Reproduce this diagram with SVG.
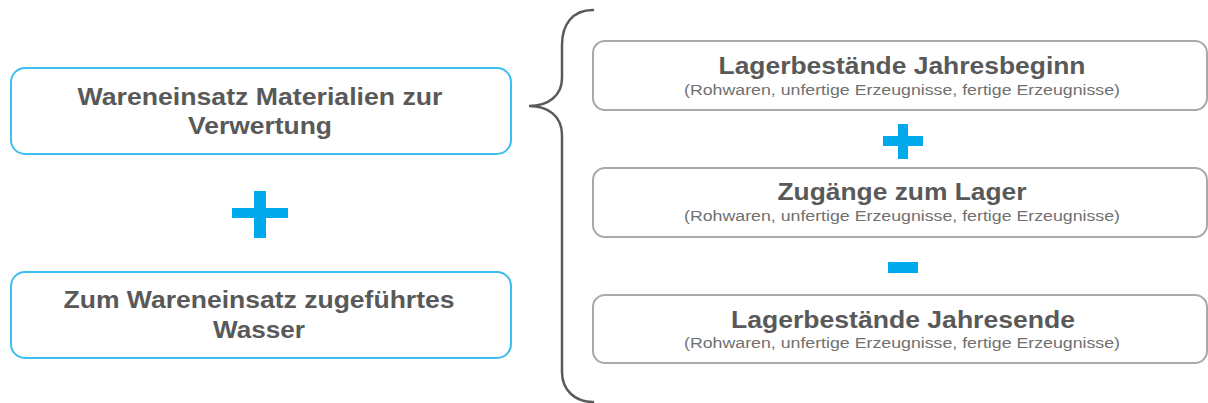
<svg xmlns="http://www.w3.org/2000/svg" width="1208" height="403" viewBox="0 0 1208 403">
  <style>
    .inbox { fill: #ffffff; stroke: #3dbdf0; stroke-width: 2; }
    .stockbox { fill: #ffffff; stroke: #a9a9a9; stroke-width: 2; }
    .sign { fill: #00a9eb; }
    .head { font-family: "Liberation Sans", Arial, sans-serif; font-weight: bold; font-size: 23px; fill: #595959; text-anchor: middle; }
    .sub { font-family: "Liberation Sans", Arial, sans-serif; font-size: 14px; fill: #707070; text-anchor: middle; }
    .brace { fill: none; stroke: #5a5a5a; stroke-width: 2.5; stroke-linecap: round; }
  </style>
  <rect width="1208" height="403" fill="#ffffff"/>

  <!-- left side: material input -->
  <g id="material">
    <rect class="inbox" x="11" y="68" width="500" height="86" rx="14"/>
    <text class="head" x="260" y="105" textLength="365" lengthAdjust="spacingAndGlyphs">Wareneinsatz Materialien zur</text>
    <text class="head" x="260" y="134" textLength="144" lengthAdjust="spacingAndGlyphs">Verwertung</text>
  </g>

  <g id="plus-left">
    <rect class="sign" x="232" y="208" width="56" height="10"/>
    <rect class="sign" x="254" y="191" width="12" height="47"/>
  </g>

  <g id="water">
    <rect class="inbox" x="11" y="272" width="500" height="86" rx="14"/>
    <text class="head" x="259" y="308" textLength="391" lengthAdjust="spacingAndGlyphs">Zum Wareneinsatz zugeführtes</text>
    <text class="head" x="259" y="338" textLength="92" lengthAdjust="spacingAndGlyphs">Wasser</text>
  </g>

  <!-- curly brace joining the stock calculation -->
  <g id="connectors">
    <path class="brace" d="M593,10 C572,10 562,25 562,45 L562,78 C562,96 548,106 529,106 C548,106 562,116 562,135 L562,372 C562,390 575,402 593,402"/>
  </g>

  <!-- right side: stock calculation -->
  <g id="stock-start">
    <rect class="stockbox" x="593" y="41" width="614" height="69" rx="12"/>
    <text class="head" x="902" y="74" textLength="367" lengthAdjust="spacingAndGlyphs">Lagerbestände Jahresbeginn</text>
    <text class="sub" x="902" y="95" textLength="436" lengthAdjust="spacingAndGlyphs">(Rohwaren, unfertige Erzeugnisse, fertige Erzeugnisse)</text>
  </g>

  <g id="plus-right">
    <rect class="sign" x="883" y="136" width="40" height="10"/>
    <rect class="sign" x="898" y="124" width="10" height="35"/>
  </g>

  <g id="stock-additions">
    <rect class="stockbox" x="593" y="168" width="614" height="69" rx="12"/>
    <text class="head" x="902" y="200" textLength="249" lengthAdjust="spacingAndGlyphs">Zugänge zum Lager</text>
    <text class="sub" x="902" y="221" textLength="436" lengthAdjust="spacingAndGlyphs">(Rohwaren, unfertige Erzeugnisse, fertige Erzeugnisse)</text>
  </g>

  <g id="minus-right">
    <rect class="sign" x="888" y="262" width="30" height="11"/>
  </g>

  <g id="stock-end">
    <rect class="stockbox" x="593" y="295" width="614" height="68" rx="12"/>
    <text class="head" x="903" y="328" textLength="344" lengthAdjust="spacingAndGlyphs">Lagerbestände Jahresende</text>
    <text class="sub" x="902" y="348" textLength="436" lengthAdjust="spacingAndGlyphs">(Rohwaren, unfertige Erzeugnisse, fertige Erzeugnisse)</text>
  </g>
</svg>
